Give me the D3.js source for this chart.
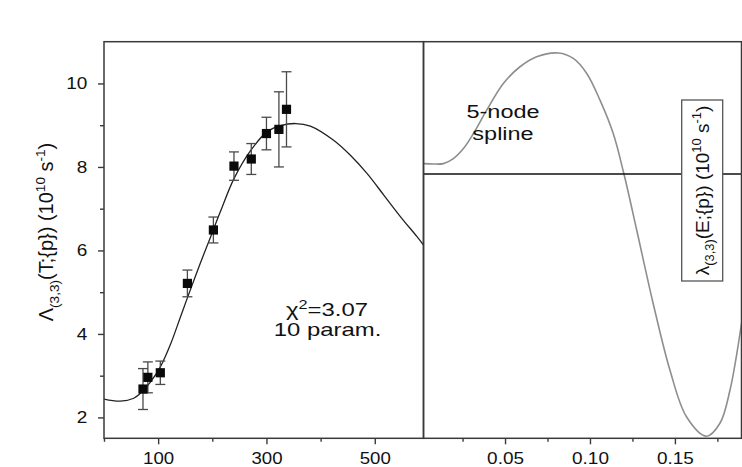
<!DOCTYPE html>
<html><head><meta charset="utf-8">
<script src="https://cdn.jsdelivr.net/npm/d3@7"></script>
<style>
body{margin:0;background:#fff}
svg{display:block}
text{font-family:"Liberation Sans", Arial, Helvetica, sans-serif; fill:#111}
</style>
</head><body>
<svg id="c" width="742" height="467"></svg>
<script>
// ---- data ----
const fitT = [0, 30, 55, 70, 86, 104, 123, 141, 155, 178, 197, 215, 240, 270, 301, 326, 354, 381, 424, 455, 486, 517, 548, 578, 590];
const fitV = [2.44, 2.39, 2.46, 2.61, 2.85, 3.21, 3.76, 4.40, 4.90, 5.70, 6.33, 6.93, 7.72, 8.38, 8.84, 8.99, 9.04, 8.98, 8.64, 8.28, 7.84, 7.32, 6.80, 6.33, 6.13];
const dataT = [72, 81, 104, 154, 202, 240, 272, 300, 323, 337];
const dataV = [2.68, 2.96, 3.07, 5.21, 6.49, 8.02, 8.19, 8.80, 8.90, 9.38];
const dataErr = [0.49, 0.37, 0.28, 0.32, 0.31, 0.34, 0.37, 0.39, 0.90, 0.90];
const splineE = [0.002, 0.0078, 0.0137, 0.0196, 0.0255, 0.0314, 0.0392, 0.0490, 0.0588, 0.0686, 0.0814, 0.0902, 0.0981, 0.1059, 0.1137, 0.1200, 0.1275, 0.1372, 0.1471, 0.1569, 0.1686, 0.1765, 0.1824, 0.1892];
const splineV = [8.08, 8.07, 8.08, 8.20, 8.44, 8.80, 9.36, 10.0, 10.40, 10.64, 10.73, 10.60, 10.24, 9.60, 8.80, 7.83, 6.49, 4.73, 3.13, 2.01, 1.55, 1.86, 2.65, 4.25];
const constLambda = 7.83;
const xTicksLeft = [100, 300, 500];
const xMinorLeft = [0, 200, 400];
const xTicksRight = [0.05, 0.10, 0.15];
const xMinorRight = [0.025, 0.075, 0.125, 0.175];
const yTicks = [2, 4, 6, 8, 10];
const yMinor = [3, 5, 7, 9];

// ---- layout ----
const yTop = 41.7, yBottom = 438.3;
const L0 = 104, L1 = 423.5, R1 = 741.5;
const svg = d3.select("#c");

const y = d3.scaleLinear().domain([1.5, 11]).range([yBottom, yTop]);
const xL = d3.scaleLinear().domain([0, 590]).range([L0, L1]);
const xR = d3.scaleLinear().domain([0.002, 0.1892]).range([L1, R1]);

const frameColor = "#3a3a3a";

// clip paths
const defs = svg.append("defs");
defs.append("clipPath").attr("id", "clipL").append("rect")
  .attr("x", L0).attr("y", yTop).attr("width", L1 - L0).attr("height", yBottom - yTop);
defs.append("clipPath").attr("id", "clipR").append("rect")
  .attr("x", L1).attr("y", yTop).attr("width", R1 - L1).attr("height", yBottom - yTop);

// ---- left panel ----
const gL = svg.append("g").attr("clip-path", "url(#clipL)");
const lineL = d3.line().x((d, i) => xL(fitT[i])).y((d, i) => y(fitV[i])).curve(d3.curveCatmullRom.alpha(0.5));
gL.append("path").datum(fitT).attr("d", lineL)
  .attr("fill", "none").attr("stroke", "#222").attr("stroke-width", 1.3);

const pts = dataT.map((t, i) => ({t, v: dataV[i], e: dataErr[i]}));
const eb = svg.append("g").attr("stroke", "#4a4a4a").attr("stroke-width", 1.3);
pts.forEach(p => {
  const cx = xL(p.t);
  eb.append("line").attr("x1", cx).attr("x2", cx).attr("y1", y(p.v - p.e)).attr("y2", y(p.v + p.e));
  eb.append("line").attr("x1", cx - 5).attr("x2", cx + 5).attr("y1", y(p.v + p.e)).attr("y2", y(p.v + p.e));
  eb.append("line").attr("x1", cx - 5).attr("x2", cx + 5).attr("y1", y(p.v - p.e)).attr("y2", y(p.v - p.e));
});
svg.append("g").selectAll("rect").data(pts).join("rect")
  .attr("x", d => xL(d.t) - 4.6).attr("y", d => y(d.v) - 4.6)
  .attr("width", 9.2).attr("height", 9.2).attr("fill", "#0a0a0a");

// ---- right panel ----
const gR = svg.append("g").attr("clip-path", "url(#clipR)");
const lineR = d3.line().x((d, i) => xR(splineE[i])).y((d, i) => y(splineV[i])).curve(d3.curveCatmullRom.alpha(0.5));
gR.append("path").datum(splineE).attr("d", lineR)
  .attr("fill", "none").attr("stroke", "#8e8e8e").attr("stroke-width", 1.6);
gR.append("line").attr("x1", L1).attr("x2", R1).attr("y1", y(constLambda)).attr("y2", y(constLambda))
  .attr("stroke", "#111").attr("stroke-width", 1.5);

// ---- frames ----
svg.append("rect").attr("x", L0).attr("y", yTop).attr("width", L1 - L0).attr("height", yBottom - yTop)
  .attr("fill", "none").attr("stroke", frameColor).attr("stroke-width", 1.5);
svg.append("rect").attr("x", L1).attr("y", yTop).attr("width", R1 - L1).attr("height", yBottom - yTop)
  .attr("fill", "none").attr("stroke", frameColor).attr("stroke-width", 1.5);

// ---- axes ----
function styleAxis(g, sx) {
  g.select(".domain").remove();
  g.selectAll("line").attr("stroke", frameColor).attr("stroke-width", 1.4);
  g.selectAll("text").attr("font-size", 16.5).attr("fill", "#111")
    .style("font-family", '"Liberation Sans", Arial, sans-serif')
    .attr("transform", `scale(${sx},1)`);
}
const axL = svg.append("g").attr("transform", `translate(0,${yBottom})`)
  .call(d3.axisBottom(xL).tickValues(xTicksLeft).tickSize(6).tickPadding(8).tickFormat(d3.format("d")));
styleAxis(axL, 1.13);
const axLm = svg.append("g").attr("transform", `translate(0,${yBottom})`)
  .call(d3.axisBottom(xL).tickValues(xMinorLeft).tickSize(3.5).tickFormat(""));
styleAxis(axLm, 1);
const axR = svg.append("g").attr("transform", `translate(0,${yBottom})`)
  .call(d3.axisBottom(xR).tickValues(xTicksRight).tickSize(6).tickPadding(8).tickFormat(d3.format(".2f")));
styleAxis(axR, 1.15);
const axRm = svg.append("g").attr("transform", `translate(0,${yBottom})`)
  .call(d3.axisBottom(xR).tickValues(xMinorRight).tickSize(3.5).tickFormat(""));
styleAxis(axRm, 1);
const axY = svg.append("g").attr("transform", `translate(${L0},0)`)
  .call(d3.axisLeft(y).tickValues(yTicks).tickSize(6).tickPadding(8.5).tickFormat(d3.format("d")));
styleAxis(axY, 1.15);
const axYm = svg.append("g").attr("transform", `translate(${L0},0)`)
  .call(d3.axisLeft(y).tickValues(yMinor).tickSize(4).tickFormat(""));
styleAxis(axYm, 1);

// ---- annotations ----
function stretched(x, yy, sx, size) {
  return svg.append("g").attr("transform", `translate(${x},${yy}) scale(${sx},1)`)
    .append("text").attr("text-anchor", "middle").attr("font-size", size);
}
stretched(503, 118.3, 1.27, 18.5).text("5-node");
stretched(503, 140, 1.27, 18.5).text("spline");
const chi = stretched(327, 316, 1.35, 17.7);
chi.append("tspan").text("χ");
chi.append("tspan").attr("dy", -7).attr("font-size", 12).text("2");
chi.append("tspan").attr("dy", 7).text("=3.07");
stretched(327.5, 335.5, 1.35, 17.7).text("10 param.");

// rotated labels
function rotLabel(cx, cy, size, main, sub, inner) {
  const g = svg.append("g").attr("transform", `translate(${cx},${cy}) rotate(-90)`);
  const t = g.append("text").attr("text-anchor", "middle").attr("font-size", size).attr("y", 0);
  const s = size * 0.68;
  t.append("tspan").text(main);
  t.append("tspan").attr("font-size", s).attr("dy", size * 0.28).text(sub);
  t.append("tspan").attr("dy", -size * 0.28).text(inner + " (10");
  t.append("tspan").attr("font-size", s).attr("dy", -size * 0.4).text("10");
  t.append("tspan").attr("dy", size * 0.4).text(" s");
  t.append("tspan").attr("font-size", s).attr("dy", -size * 0.4).text("-1");
  t.append("tspan").attr("dy", size * 0.4).text(")");
  return {g, t};
}
rotLabel(53, 232, 20, "Λ", "(3,3)", "(T;{p})");
const rl = rotLabel(709, 190.5, 19, "λ", "(3,3)", "(E;{p})");
// box around right label
rl.g.insert("rect", "text")
  .attr("x", -90.5).attr("y", -27.3).attr("width", 181).attr("height", 41)
  .attr("fill", "#fff").attr("stroke", "#555").attr("stroke-width", 1.3);
</script>
</body></html>
